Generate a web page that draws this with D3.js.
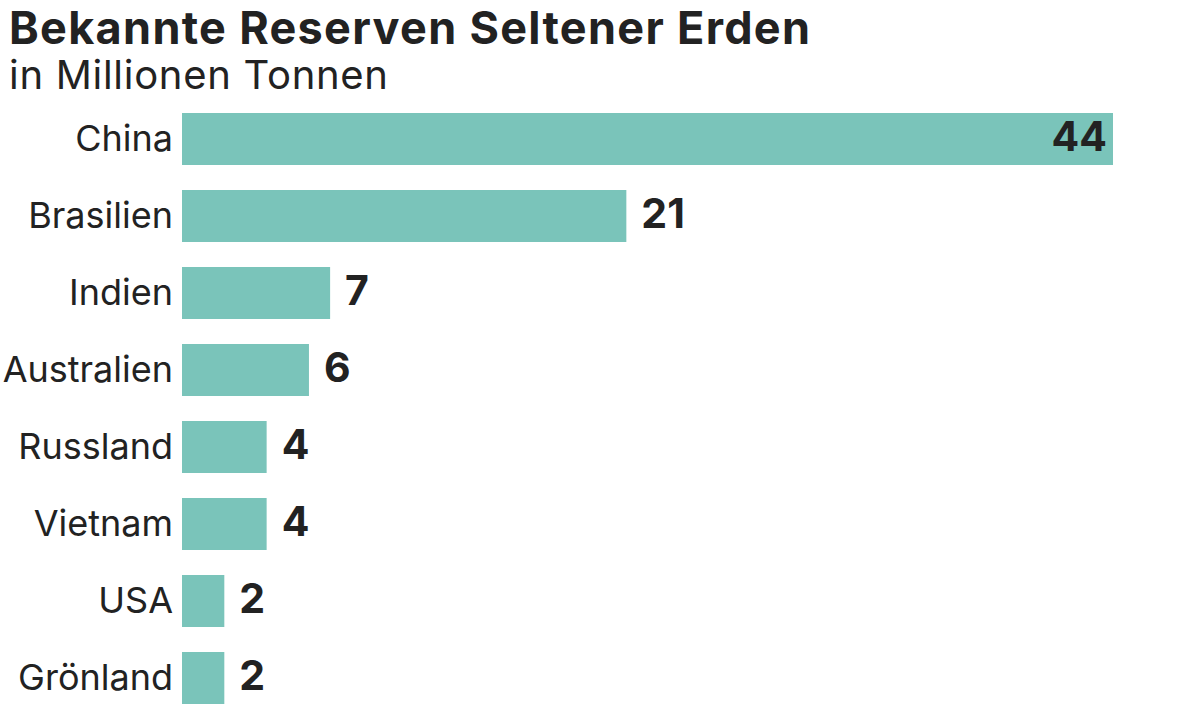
<!DOCTYPE html>
<html><head><meta charset="utf-8">
<script src="https://cdn.jsdelivr.net/npm/d3@7"></script>
<style>body{margin:0;background:#fff}svg{display:block}</style>
</head><body>
<script>
const categories = ["China","Brasilien","Indien","Australien","Russland","Vietnam","USA","Grönland"];
const values = [44,21,7,6,4,4,2,2];
const title = "Bekannte Reserven Seltener Erden";
const subtitle = "in Millionen Tonnen";

const W = 1200, H = 725;
const svg = d3.select("body").append("svg").attr("width", W).attr("height", H);
const font = "Inter, 'Noto Sans', sans-serif";
const ink = "#222222";

function fitWidth(sel, target) {
  const n = sel.text().length;
  const w = sel.node().getComputedTextLength();
  sel.attr("letter-spacing", (target - w) / (n - 1));
}

const t = svg.append("text").attr("x", 9).attr("y", 43.5).text(title)
  .attr("font-family", font).attr("font-weight", 700).attr("font-size", 45)
  .attr("fill", ink);
fitWidth(t, 801);
const s = svg.append("text").attr("x", 9).attr("y", 88.5).text(subtitle)
  .attr("font-family", font).attr("font-weight", 400).attr("font-size", 40)
  .attr("fill", ink);
fitWidth(s, 379);

const x = d3.scaleLinear().domain([0, 44]).range([182, 1113]);
const y = d3.scaleBand().domain(categories).range([113 - 12.5, 704 + 12.5]).paddingInner(25/77).paddingOuter(12.5/77);

const data = categories.map((c, i) => ({c, v: values[i]}));

const g = svg.append("g");
g.selectAll("rect").data(data).join("rect")
  .attr("x", x(0)).attr("y", d => y(d.c)).attr("width", d => x(d.v) - x(0))
  .attr("height", y.bandwidth()).attr("fill", "#7ac4ba");

g.selectAll("text.cat").data(data).join("text").attr("class", "cat")
  .attr("x", 173).attr("y", d => y(d.c) + y.bandwidth()/2 + 12)
  .attr("text-anchor", "end").text(d => d.c)
  .attr("font-family", font).attr("font-size", 36).attr("fill", ink);

const maxV = d3.max(values);
g.selectAll("text.val").data(data).join("text").attr("class", "val")
  .attr("x", d => d.v === maxV ? x(d.v) - 6 : x(d.v) + 15)
  .attr("y", d => y(d.c) + y.bandwidth()/2 + 12)
  .attr("text-anchor", d => d.v === maxV ? "end" : "start")
  .text(d => d.v)
  .attr("font-family", font).attr("font-weight", 700).attr("font-size", 41).attr("fill", ink);
</script>
</body></html>
